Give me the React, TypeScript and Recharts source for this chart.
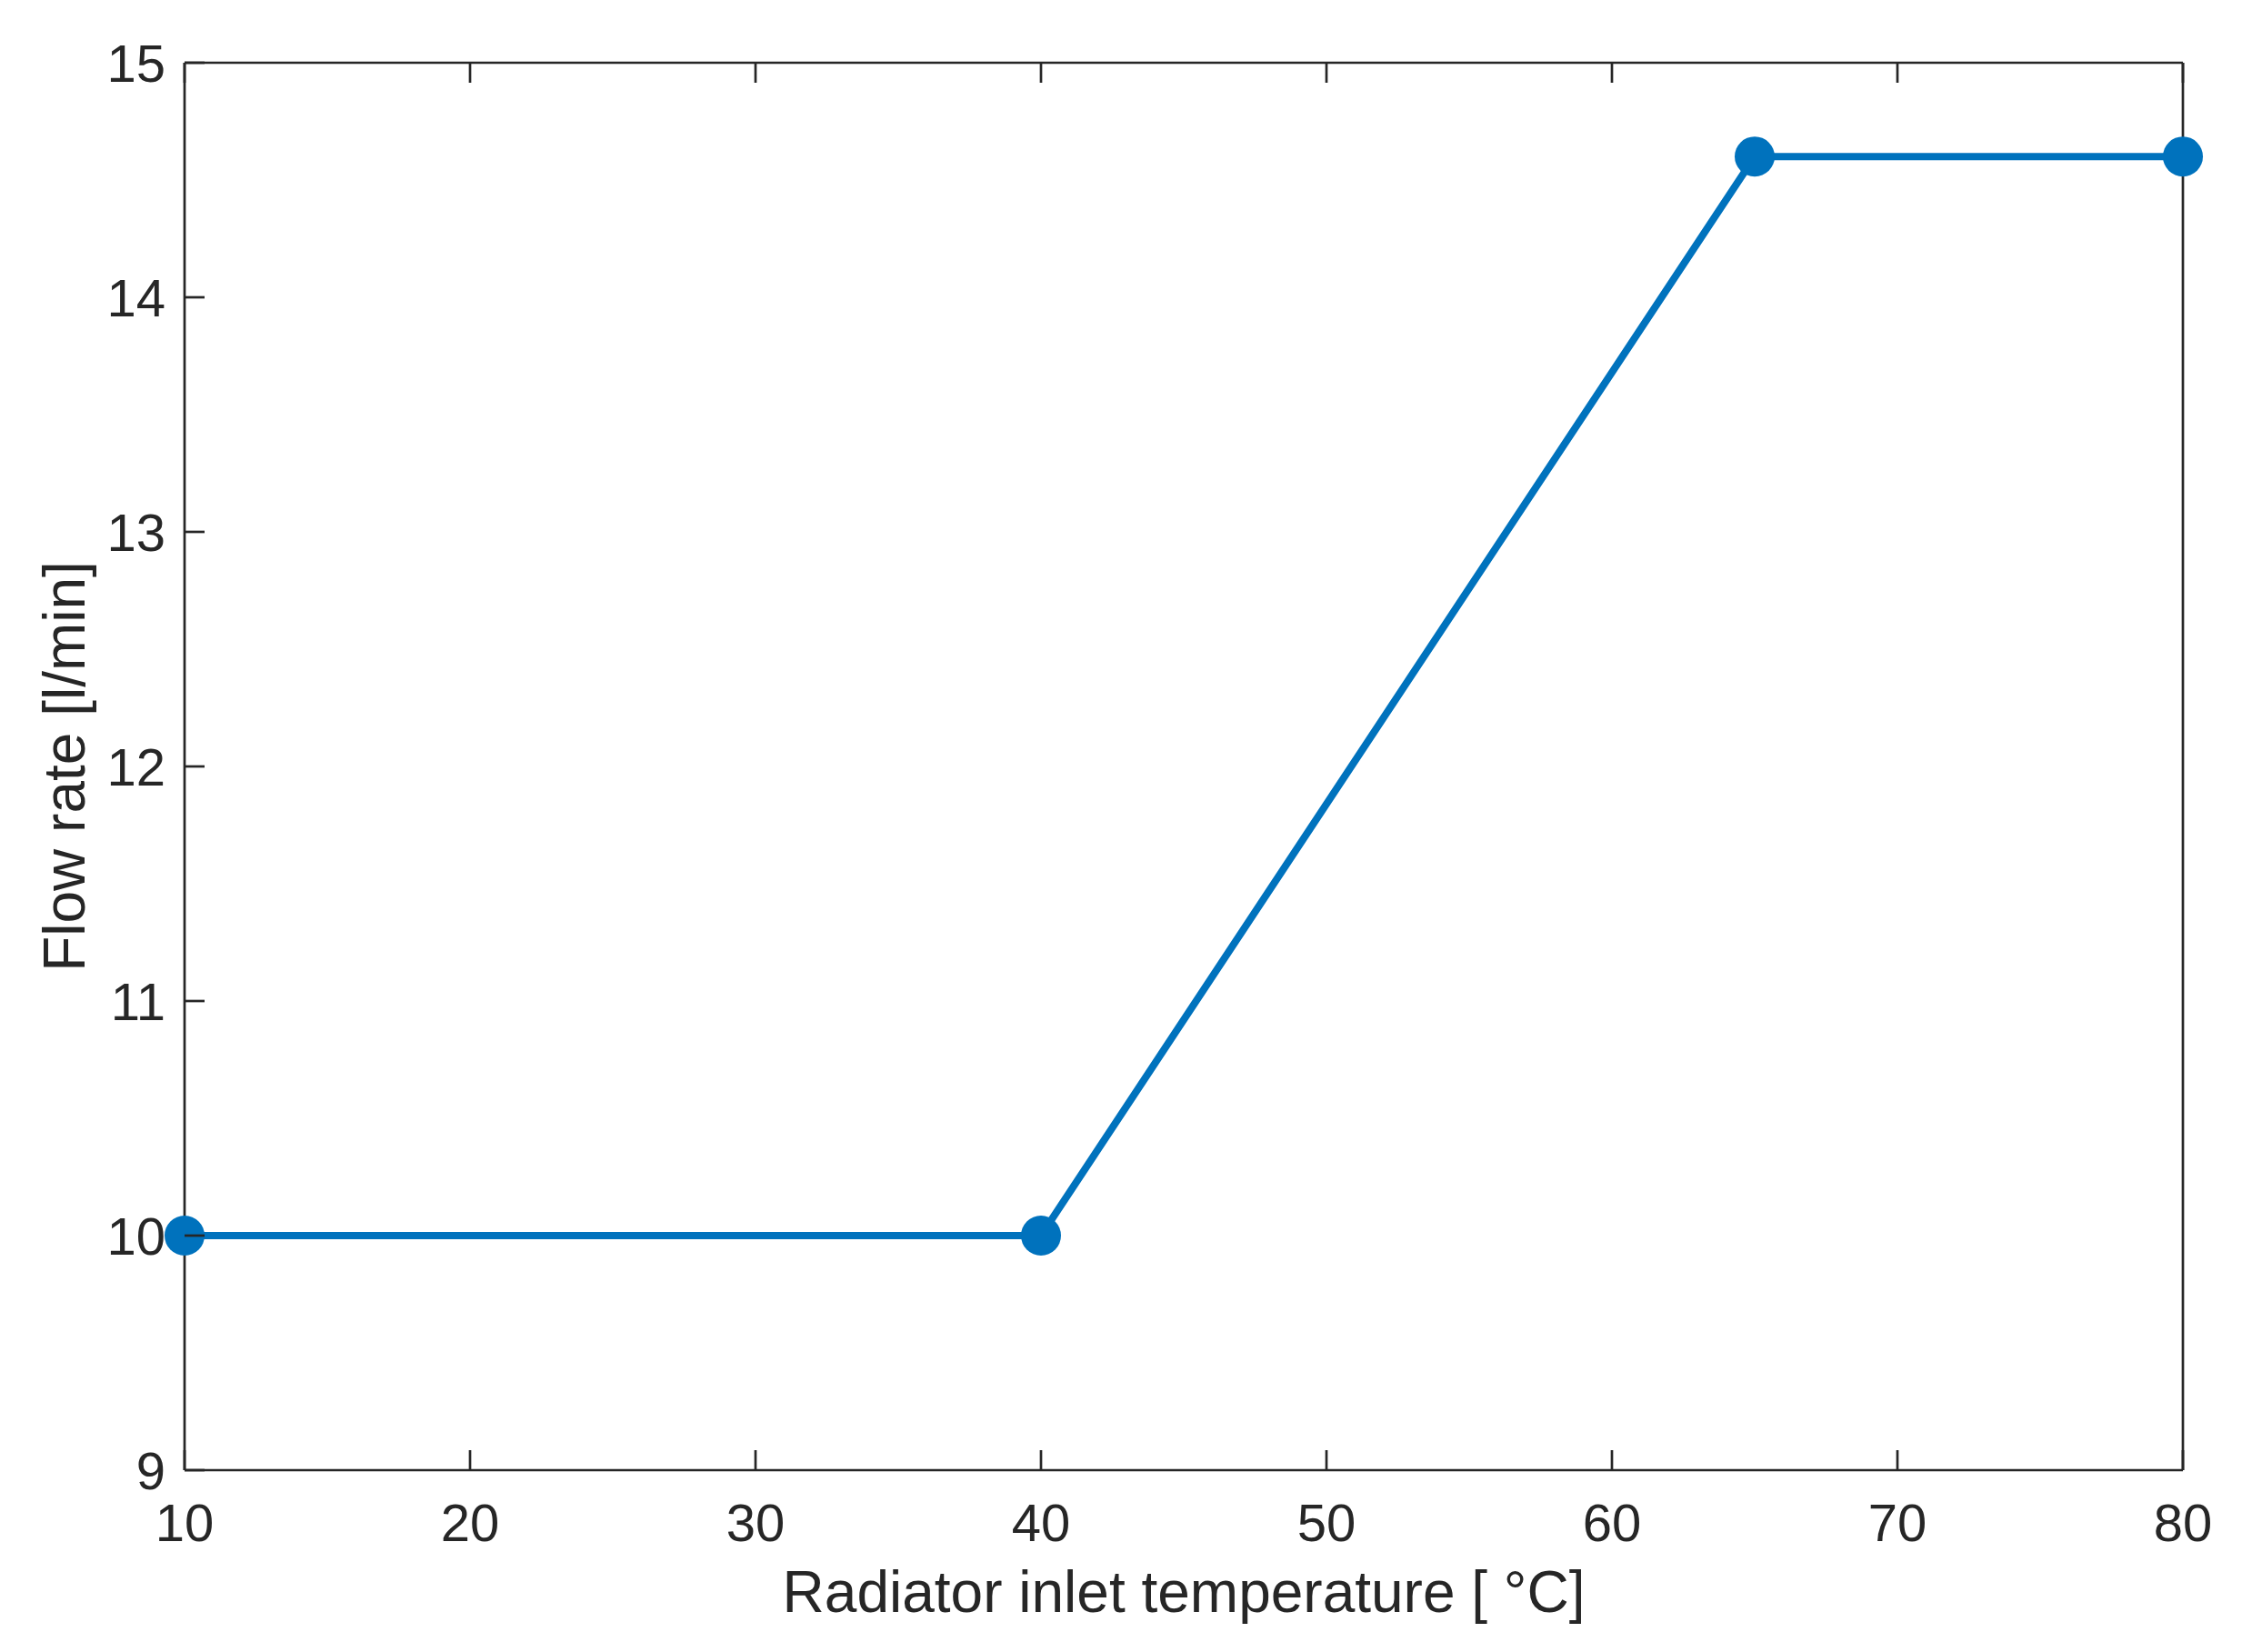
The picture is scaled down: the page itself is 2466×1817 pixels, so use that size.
import { LineChart, Line, XAxis, YAxis } from "recharts";

const temps = [10, 40, 65, 80];
const flowRates = [10, 10, 14.6, 14.6];
const xTicks = [10, 20, 30, 40, 50, 60, 70, 80];
const yTicks = [9, 10, 11, 12, 13, 14, 15];

const data = temps.map((t, i) => ({ temp: t, flow: flowRates[i] }));

const W = 2466;
const H = 1817;
const INK = "#262626";
const BLUE = "#0072BD";
const FONT = "'Liberation Sans', Arial, sans-serif";
const TICK_LEN = 22;
const AXIS_W = 2.7;

// MATLAB-style ticks: pointing into the box, labels only on bottom/left
function BottomTick(props: any) {
  const { x, y, payload } = props;
  return (
    <g>
      <line x1={x} y1={y} x2={x} y2={y - TICK_LEN} stroke={INK} strokeWidth={AXIS_W} />
      <text x={x} y={y + 78} textAnchor="middle" fontSize={58} fill={INK} fontFamily={FONT}>
        {payload.value}
      </text>
    </g>
  );
}

function TopTick(props: any) {
  const { x, y } = props;
  return <line x1={x} y1={y} x2={x} y2={y + TICK_LEN} stroke={INK} strokeWidth={AXIS_W} />;
}

function LeftTick(props: any) {
  const { x, y, payload } = props;
  return (
    <g>
      <line x1={x} y1={y} x2={x + TICK_LEN} y2={y} stroke={INK} strokeWidth={AXIS_W} />
      <text x={x - 21} y={y + 21} textAnchor="end" fontSize={58} fill={INK} fontFamily={FONT}>
        {payload.value}
      </text>
    </g>
  );
}

function RightTick(props: any) {
  const { x, y } = props;
  return <line x1={x} y1={y} x2={x - TICK_LEN} y2={y} stroke={INK} strokeWidth={AXIS_W} />;
}

export default function App() {
  const axisLine = { stroke: INK, strokeWidth: AXIS_W };
  return (
    <div style={{ position: "absolute", left: 0, top: 0, width: W, height: H, background: "#fff" }}>
      <LineChart
        width={W}
        height={H}
        data={data}
        margin={{ top: 68, right: 64, bottom: 0, left: 0 }}
      >
        <XAxis
          dataKey="temp"
          type="number"
          domain={[10, 80]}
          ticks={xTicks}
          height={200}
          axisLine={axisLine}
          tickLine={false}
          tickSize={0}
          tickMargin={0}
          tick={<BottomTick />}
          interval={0}
          label={{
            content: () => (
              <text x={1302} y={1773} textAnchor="middle" fontSize={64} fill={INK} fontFamily={FONT}>
                Radiator inlet temperature [ °C]
              </text>
            ),
          }}
        />
        <XAxis
          xAxisId="top"
          orientation="top"
          dataKey="temp"
          type="number"
          domain={[10, 80]}
          ticks={xTicks}
          height={1}
          axisLine={axisLine}
          tickLine={false}
          tickSize={0}
          tickMargin={0}
          tick={<TopTick />}
          interval={0}
        />
        <YAxis
          type="number"
          domain={[9, 15]}
          ticks={yTicks}
          width={203}
          axisLine={axisLine}
          tickLine={false}
          tickSize={0}
          tickMargin={0}
          tick={<LeftTick />}
          interval={0}
          label={{
            content: () => (
              <text
                x={93}
                y={843}
                transform="rotate(-90, 93, 843)"
                textAnchor="middle"
                fontSize={64}
                fill={INK}
                fontFamily={FONT}
              >
                Flow rate [l/min]
              </text>
            ),
          }}
        />
        <YAxis
          yAxisId="right"
          orientation="right"
          type="number"
          domain={[9, 15]}
          ticks={yTicks}
          width={1}
          axisLine={axisLine}
          tickLine={false}
          tickSize={0}
          tickMargin={0}
          tick={<RightTick />}
          interval={0}
        />
        <Line
          dataKey="flow"
          type="linear"
          stroke={BLUE}
          strokeWidth={8}
          dot={{ r: 22, fill: BLUE, stroke: BLUE, strokeWidth: 0 }}
          isAnimationActive={false}
        />
      </LineChart>
    </div>
  );
}
